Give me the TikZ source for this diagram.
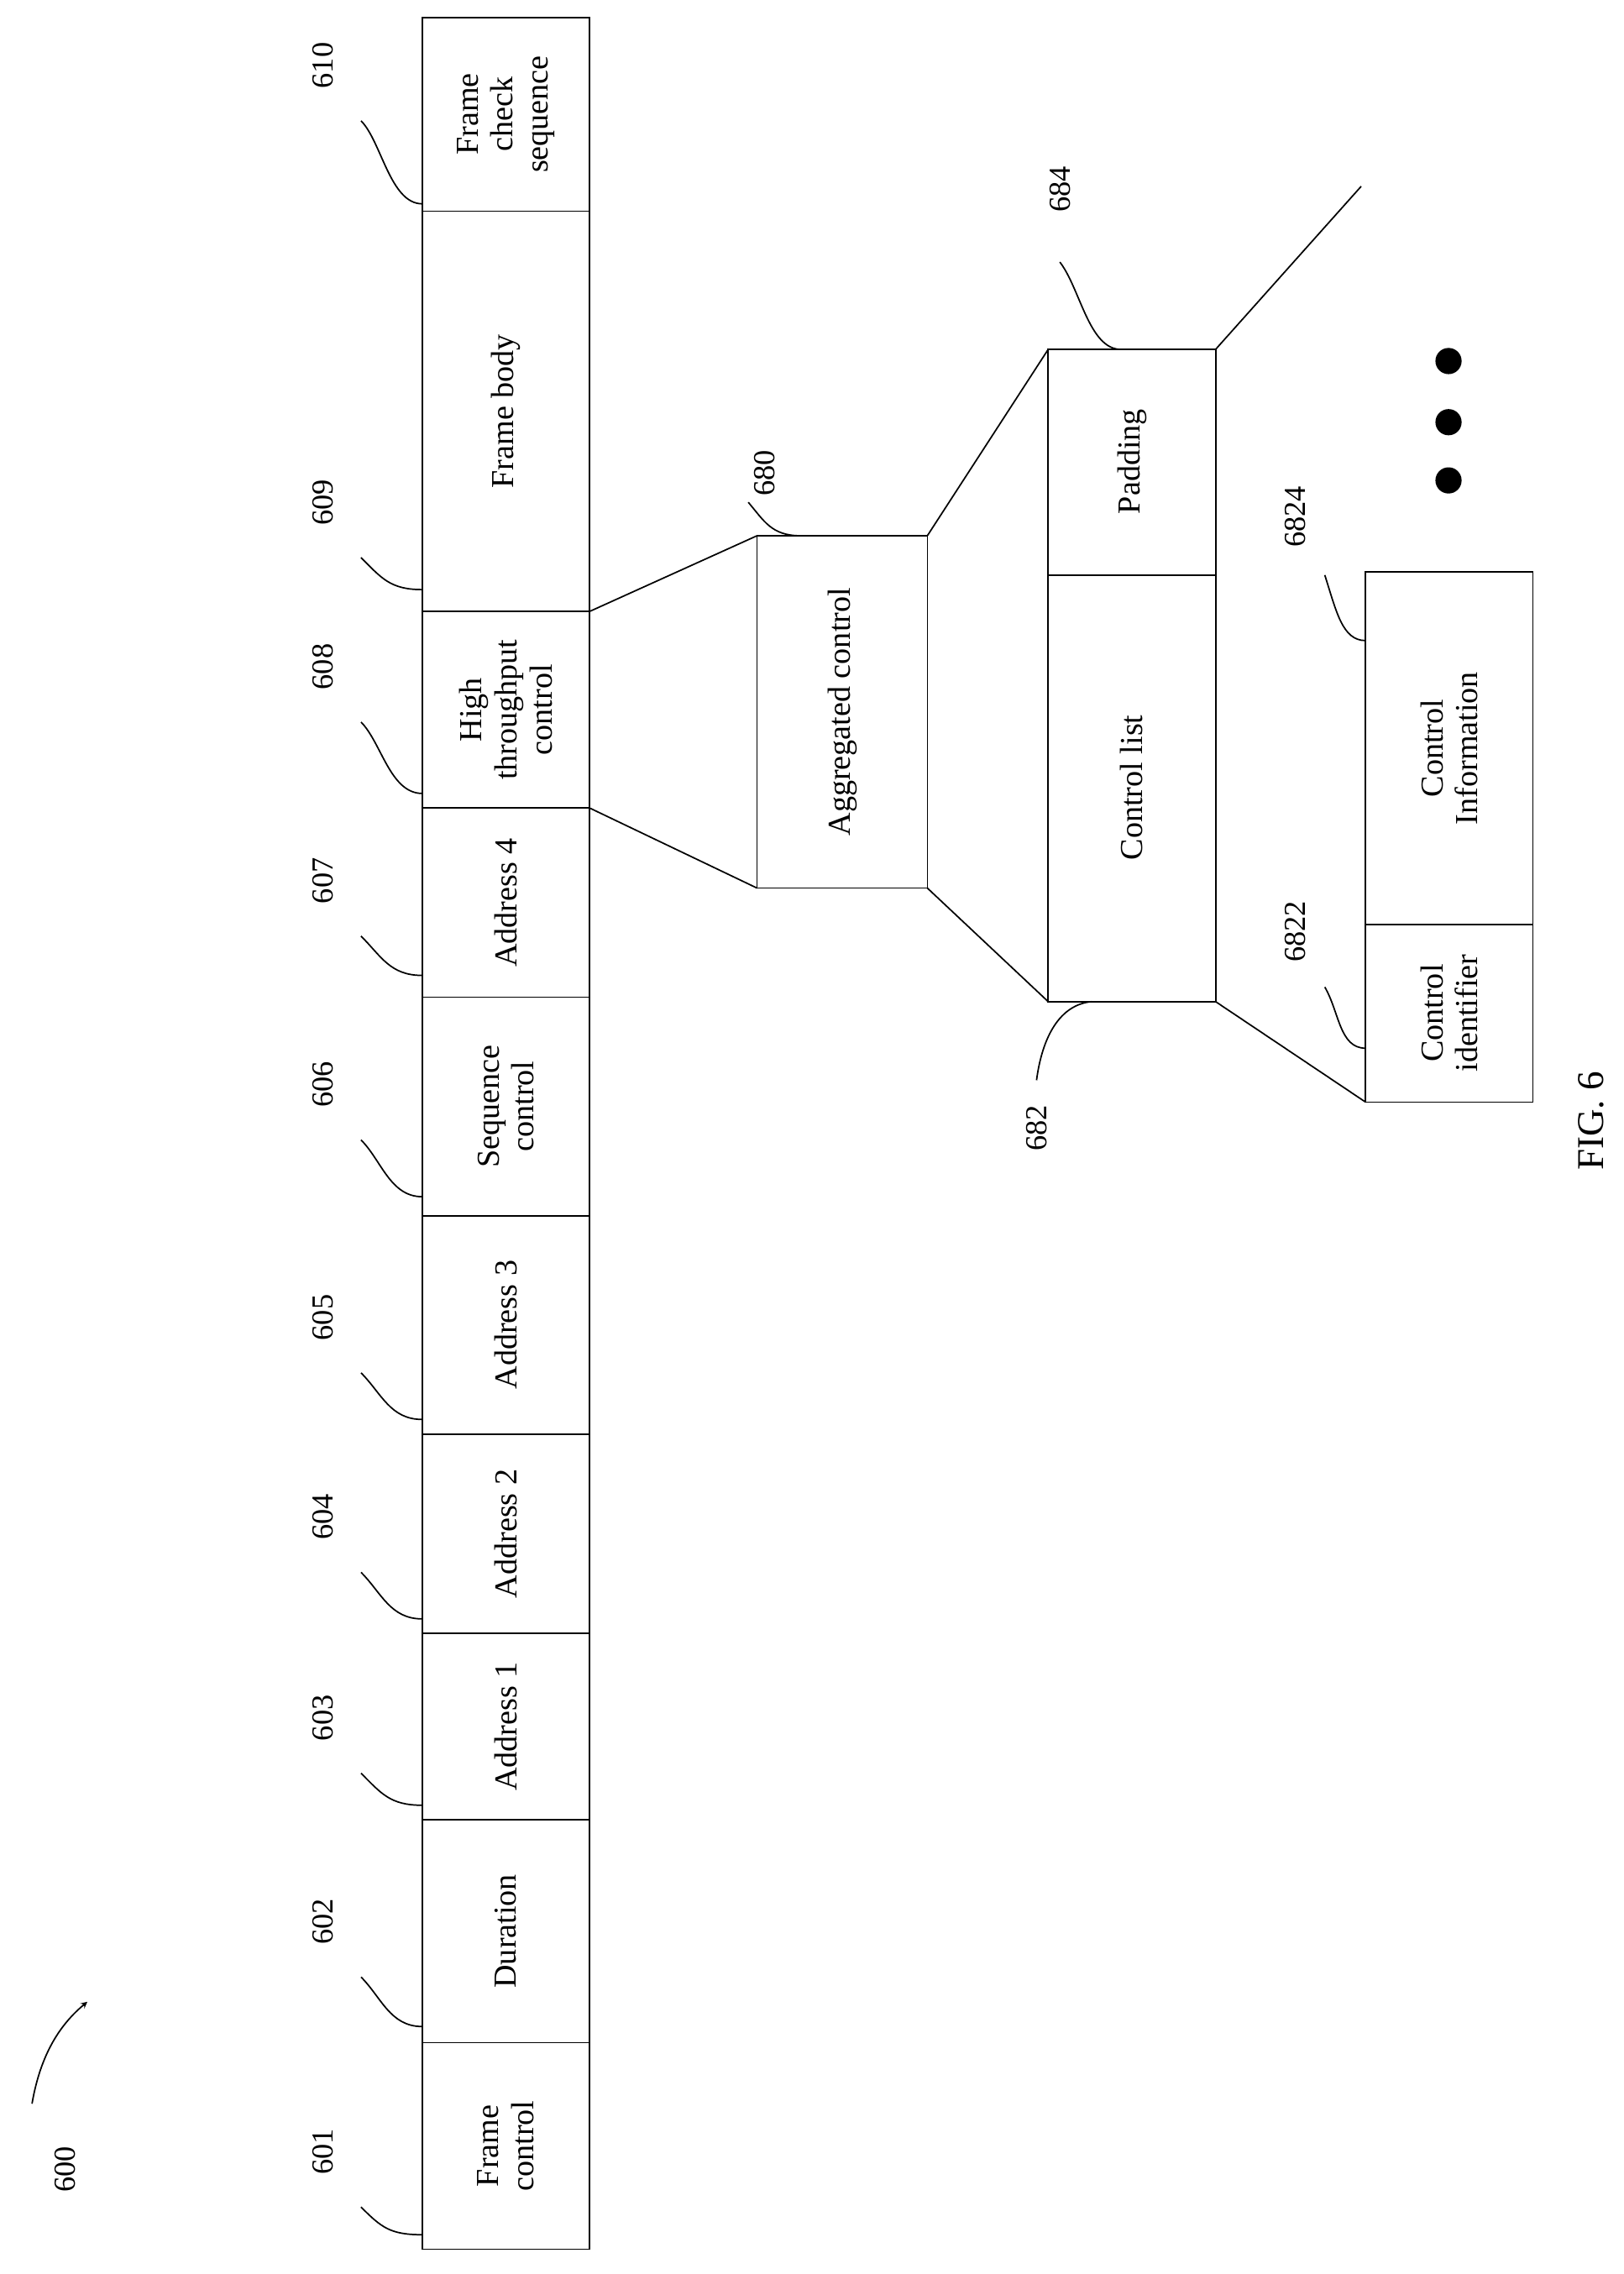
\documentclass[tikz,border=0pt]{standalone}
\usepackage{fontspec}
\setmainfont{Liberation Serif}
\begin{document}
\begin{tikzpicture}[x=1pt,y=-1pt,
 fld/.style={draw,line width=1pt,rotate=90,align=center,font=\fontsize{22}{24}\selectfont,inner sep=0pt},
 num/.style={rotate=90,font=\fontsize{21}{23}\selectfont},
 ld/.style={line width=1pt}]
\useasboundingbox (0,0) rectangle (1115,1562);
% main column
\def\xa{290}\def\xb{405}
\foreach \n/\ya/\yb/\t in {610/12/145/{Frame\\check\\sequence},609/145/420/{Frame body},608/420/555/{High\\throughput\\control},607/555/685/{Address 4},606/685/835/{Sequence\\control},605/835/985/{Address 3},604/985/1122/{Address 2},603/1122/1250/{Address 1},602/1250/1403/{Duration},601/1403/1545/{Frame\\control}}{
 \draw[ld] (\xa,\ya) rectangle (\xb,\yb);
 \node[rotate=90,align=center,font=\fontsize{22}{24}\selectfont] (f\n) at ({(\xa+\xb)/2},{(\ya+\yb)/2}) {\t};
}
\foreach \n/\ly/\ey in {610/45/140,609/345/405,608/458/545,607/605/670,606/745/822,605/905/975,604/1042/1112,603/1180/1240,602/1320/1392,601/1478/1535}{
 \node[num] (l\n) at (222,\ly) {\n};
 \draw[ld] (248,\ly+38) .. controls (262,\ly+52) and (268,\ey) .. (290,\ey);
}
% aggregated control
\draw[ld] (520,368) rectangle (637,610);
\node[rotate=90,font=\fontsize{22}{24}\selectfont] (agg) at (578.5,489) {Aggregated control};
\draw[ld] (405,420) -- (520,368); \draw[ld] (405,555) -- (520,610);
\node[num] (l680) at (525,325) {680};
\draw[ld] (514,345) .. controls (525,358) and (530,368) .. (550,368);
% second
\draw[ld] (720,240) rectangle (835,688); \draw[ld] (720,395) -- (835,395);
\node[rotate=90,font=\fontsize{22}{24}\selectfont] (pad) at (777.5,317) {Padding};
\node[rotate=90,font=\fontsize{22}{24}\selectfont] (cl) at (777.5,541) {Control list};
\draw[ld] (637,368) -- (720,240); \draw[ld] (637,610) -- (720,688);
\draw[ld] (835,240) -- (935,128); \draw[ld] (835,688) -- (938,757);
\node[num] (l684) at (728,130) {684};
\draw[ld] (728,180) .. controls (742,198) and (748,240) .. (770,240);
\node[num] (l682) at (712,775) {682};
\draw[ld] (712,742) .. controls (716,712) and (728,690) .. (750,688);
% third
\draw[ld] (938,393) rectangle (1053,757); \draw[ld] (938,635) -- (1053,635);
\node[rotate=90,align=center,font=\fontsize{22}{24}\selectfont] (ci) at (995.5,696) {Control\\identifier};
\node[rotate=90,align=center,font=\fontsize{22}{24}\selectfont] (cinf) at (995.5,514) {Control\\Information};
\node[num] (l6822) at (890,640) {6822};
\draw[ld] (910,678) .. controls (920,695) and (920,720) .. (938,720);
\node[num] (l6824) at (890,355) {6824};
\draw[ld] (910,395) .. controls (918,420) and (922,440) .. (938,440);
\foreach \yy in {248,290,330} \fill (995,\yy) circle (9);
% 600
\node[num] (l600) at (45,1490) {600};
\draw[ld,-stealth] (22,1445) .. controls (28,1410) and (42,1390) .. (60,1375);
\node[rotate=90,font=\fontsize{26}{28}\selectfont] (fig) at (1093,770) {FIG. 6};
\end{tikzpicture}
\end{document}
